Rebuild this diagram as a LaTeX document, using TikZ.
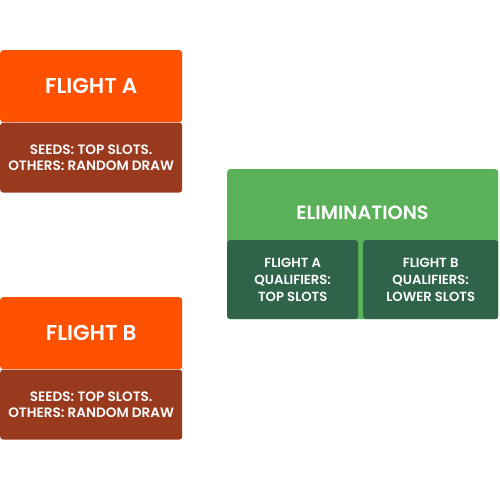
\documentclass[tikz,border=0pt]{standalone}
\usepackage{fontspec}
\setmainfont{Poppins}[UprightFont=* Medium, BoldFont=* SemiBold]
\usetikzlibrary{positioning}

\definecolor{flightorange}{HTML}{FF5100}
\definecolor{flightbrown}{HTML}{993A1F}
\definecolor{elimgreen}{HTML}{5BB159}
\definecolor{elimdark}{HTML}{2F644A}

\tikzset{
    flighthead/.style={fill=flightorange, rounded corners=3pt, inner sep=0pt,
        minimum width=182pt, minimum height=72pt, text=white,
        font=\bfseries\fontsize{21.5}{24}\selectfont},
    flightbody/.style={fill=flightbrown, rounded corners=3pt, inner sep=0pt,
        minimum width=182pt, minimum height=70pt, text=white, align=center,
        font=\bfseries\fontsize{13.6}{16}\selectfont},
    elimhead/.style={fill=elimgreen, rounded corners=3pt, inner sep=0pt,
        minimum width=271pt, minimum height=150pt},
    elimbody/.style={fill=elimdark, rounded corners=3pt, inner sep=0pt,
        minimum width=131pt, minimum height=79pt, text=white, align=center,
        font=\bfseries\fontsize{13.2}{17}\selectfont},
}

\begin{document}
\begin{tikzpicture}[x=1pt, y=-1pt]
    \useasboundingbox (0,0) rectangle (500,500);

    % Flight A
    \node[flighthead, anchor=north west] (flighta) at (0,50) {FLIGHT A};
    \node[flightbody, below=0pt of flighta] (seedsa) {SEEDS: TOP SLOTS.\\OTHERS: RANDOM DRAW};

    % Flight B
    \node[flighthead, anchor=north west] (flightb) at (0,297) {FLIGHT B};
    \node[flightbody, below=0pt of flightb] (seedsb) {SEEDS: TOP SLOTS.\\OTHERS: RANDOM DRAW};

    % Eliminations
    \node[elimhead, anchor=north west] (elim) at (227,169) {};
    \node[text=white, font=\bfseries\fontsize{19.2}{22}\selectfont] (elimtitle) at (362.5,213) {ELIMINATIONS};
    \node[elimbody, anchor=south west] (quala) at (elim.south west) {FLIGHT A\\QUALIFIERS:\\TOP SLOTS};
    \node[elimbody, anchor=south east, minimum width=135pt] (qualb) at (elim.south east) {FLIGHT B\\QUALIFIERS:\\LOWER SLOTS};
\end{tikzpicture}
\end{document}
